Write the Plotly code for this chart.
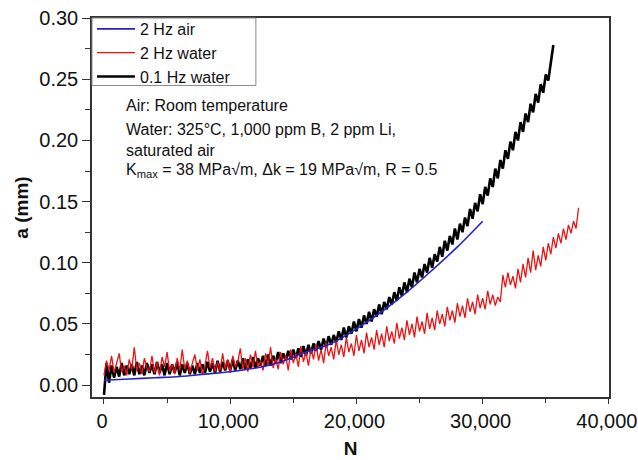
import plotly.graph_objects as go

# ---- data ----
# 2 Hz air: smooth curve
air_N = [0, 2000, 4000, 6000, 8000, 10000, 12000, 14000, 16000, 18000,
         20000, 22000, 24000, 26000, 28000, 30000]
air_a = [0.004, 0.005, 0.006, 0.007, 0.009, 0.011, 0.014, 0.019, 0.027, 0.034,
         0.046, 0.060, 0.076, 0.094, 0.113, 0.134]

# 2 Hz water: noisy record, one sample every 200 cycles starting at N = 0
water2_step = 200
water2_a = [
    0.008, 0.020, 0.012, 0.024, 0.010,
    0.018, 0.026, 0.011, 0.016, 0.008,
    0.021, 0.013, 0.031, 0.012, 0.018,
    0.009, 0.022, 0.014, 0.011, 0.024,
    0.010, 0.019, 0.008, 0.023, 0.015,
    0.027, 0.011, 0.017, 0.009, 0.022,
    0.012, 0.029, 0.013, 0.020, 0.010,
    0.018, 0.025, 0.012, 0.021, 0.009,
    0.016, 0.028, 0.014, 0.022, 0.011,
    0.019, 0.012, 0.026, 0.013, 0.021,
    0.010, 0.024, 0.015, 0.019, 0.030,
    0.013, 0.022, 0.011, 0.025, 0.015,
    0.028, 0.014, 0.020, 0.012, 0.026,
    0.016, 0.031, 0.014, 0.022, 0.013,
    0.027, 0.017, 0.024, 0.012, 0.029,
    0.018, 0.026, 0.015, 0.032, 0.019,
    0.027, 0.016, 0.030, 0.021, 0.034,
    0.020, 0.029, 0.018, 0.035, 0.024,
    0.031, 0.021, 0.037, 0.025, 0.033,
    0.023, 0.039, 0.027, 0.034, 0.024,
    0.041, 0.028, 0.037, 0.026, 0.043,
    0.031, 0.039, 0.029, 0.045, 0.033,
    0.042, 0.031, 0.048, 0.036, 0.044,
    0.034, 0.051, 0.038, 0.047, 0.037,
    0.053, 0.041, 0.050, 0.039, 0.056,
    0.044, 0.052, 0.042, 0.059, 0.046,
    0.055, 0.045, 0.061, 0.050, 0.058,
    0.048, 0.064, 0.053, 0.061, 0.051,
    0.067, 0.056, 0.065, 0.055, 0.071,
    0.060, 0.068, 0.058, 0.074, 0.063,
    0.071, 0.062, 0.077, 0.066, 0.074,
    0.065, 0.072, 0.068, 0.090, 0.080,
    0.092, 0.082, 0.089, 0.079, 0.095,
    0.084, 0.099, 0.088, 0.104, 0.092,
    0.110, 0.094, 0.106, 0.097, 0.113,
    0.102, 0.116, 0.107, 0.121, 0.112,
    0.124, 0.116, 0.128, 0.119, 0.131,
    0.124, 0.134, 0.128, 0.145,
]

# 0.1 Hz water: noisy record, one sample every 200 cycles starting at N = 0
water01_step = 200
water01_a = [
    -0.008, 0.018, 0.002, 0.016, 0.006,
    0.015, 0.007, 0.018, 0.008, 0.016,
    0.009, 0.017, 0.008, 0.019, 0.009,
    0.016, 0.008, 0.018, 0.010, 0.017,
    0.009, 0.019, 0.010, 0.017, 0.008,
    0.018, 0.009, 0.017, 0.010, 0.019,
    0.008, 0.017, 0.010, 0.018, 0.009,
    0.016, 0.009, 0.018, 0.010, 0.017,
    0.010, 0.019, 0.011, 0.018, 0.010,
    0.020, 0.011, 0.019, 0.012, 0.020,
    0.012, 0.021, 0.012, 0.020, 0.013,
    0.022, 0.013, 0.021, 0.014, 0.023,
    0.014, 0.022, 0.016, 0.024, 0.016,
    0.025, 0.016, 0.024, 0.018, 0.027,
    0.018, 0.026, 0.020, 0.028, 0.021,
    0.029, 0.022, 0.030, 0.023, 0.032,
    0.024, 0.033, 0.026, 0.034, 0.028,
    0.036, 0.029, 0.038, 0.031, 0.040,
    0.033, 0.041, 0.035, 0.044, 0.037,
    0.047, 0.039, 0.048, 0.042, 0.052,
    0.044, 0.054, 0.047, 0.057, 0.050,
    0.060, 0.052, 0.062, 0.056, 0.066,
    0.058, 0.068, 0.062, 0.072, 0.066,
    0.076, 0.069, 0.080, 0.073, 0.084,
    0.076, 0.087, 0.080, 0.092, 0.084,
    0.095, 0.088, 0.099, 0.092, 0.104,
    0.096, 0.107, 0.101, 0.113, 0.105,
    0.118, 0.110, 0.122, 0.115, 0.128,
    0.119, 0.132, 0.125, 0.137, 0.130,
    0.144, 0.136, 0.149, 0.142, 0.156,
    0.148, 0.162, 0.155, 0.169, 0.162,
    0.177, 0.169, 0.184, 0.177, 0.192,
    0.185, 0.199, 0.192, 0.207, 0.200,
    0.215, 0.207, 0.222, 0.215, 0.230,
    0.223, 0.238, 0.231, 0.246, 0.239,
    0.254, 0.249, 0.266, 0.278,
]

water2_N = [i * water2_step for i in range(len(water2_a))]
water01_N = [i * water01_step for i in range(len(water01_a))]

FONT = "Liberation Sans, Arial, Helvetica, sans-serif"

fig = go.Figure()
fig.add_trace(go.Scatter(x=water01_N, y=water01_a, mode="lines", name="0.1 Hz water",
                         line=dict(color="#000000", width=2.6)))
fig.add_trace(go.Scatter(x=water2_N, y=water2_a, mode="lines", name="2 Hz water",
                         line=dict(color="#ee1111", width=1.3)))
fig.add_trace(go.Scatter(x=air_N, y=air_a, mode="lines", name="2 Hz air",
                         line=dict(color="#2222cc", width=1.6, shape="spline")))

axis_common = dict(showline=True, linecolor="#333333", linewidth=1.5, mirror=True,
                   showgrid=False, zeroline=False, ticks="outside",
                   tickwidth=1.2, tickcolor="#333333", automargin=False,
                   ticklabeloverflow="allow",
                   tickfont=dict(family=FONT, size=20, color="#111111"))

fig.update_xaxes(range=[-950, 40010], tickvals=[0, 10000, 20000, 30000, 40000],
                 ticktext=["0", "10,000", "20,000", "30,000", "40,000"], ticklen=5,
                 ticklabelshift=-2,
                 minor=dict(dtick=5000, tick0=0, ticks="outside", ticklen=4,
                            tickcolor="#333333"),
                 title=dict(text="<b>N</b>", font=dict(family=FONT, size=19, color="#111111"),
                            standoff=11),
                 **axis_common)
fig.update_yaxes(range=[-0.0097, 0.3001], tickvals=[0, 0.05, 0.10, 0.15, 0.20, 0.25, 0.30],
                 ticktext=["0.00", "0.05", "0.10", "0.15", "0.20", "0.25", "0.30"], ticklen=8,
                 minor=dict(dtick=0.025, tick0=0, ticks="outside", ticklen=5,
                            tickcolor="#333333"),
                 title=dict(text="<b>a (mm)</b>", font=dict(family=FONT, size=19, color="#111111"),
                            standoff=6),
                 **axis_common)

notes = [
    ("Air: Room temperature", 0.768),
    ("Water: 325°C, 1,000 ppm B, 2 ppm Li,<br>saturated air", 0.677),
    ("K<sub>max</sub> = 38 MPa√m, Δk = 19 MPa√m, R = 0.5", 0.598),
]
for txt, yy in notes:
    fig.add_annotation(text=txt, xref="paper", yref="paper", x=0.062, y=yy,
                       xanchor="left", yanchor="middle", align="left", showarrow=False,
                       font=dict(family=FONT, size=16, color="#111111"))

# legend frame (box drawn at the reference's size; legend entries sit inside)
fig.add_shape(type="rect", xref="paper", yref="paper", x0=0, x1=0.317, y0=0.822, y1=1,
              line=dict(color="#888888", width=1), fillcolor="white", layer="above")

fig.update_layout(
    width=638, height=460,
    margin=dict(l=92, r=29, t=14, b=63),
    paper_bgcolor="white", plot_bgcolor="white",
    font=dict(family=FONT, color="#111111"),
    showlegend=True,
    legend=dict(x=0.0, y=1.016, xanchor="left", yanchor="top", traceorder="reversed",
                bgcolor="rgba(0,0,0,0)", borderwidth=0,
                font=dict(family=FONT, size=16, color="#111111"),
                tracegroupgap=0, itemwidth=38),
)

fig.write_html("out.html", post_script="document.body.style.margin='0';",
               config={"displayModeBar": False})
